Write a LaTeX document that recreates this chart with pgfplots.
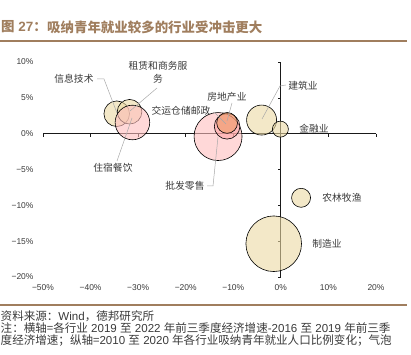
\documentclass[border=0pt]{standalone}
\usepackage{pgfplots}
\pgfplotsset{compat=1.18}
\usepackage{fontspec}
\setmainfont{Liberation Sans}
\newfontfamily\cjk{Noto Sans CJK SC}
\definecolor{beige}{HTML}{EBD9A3}
\definecolor{pinkb}{HTML}{FFBEBE}
\definecolor{pinkc}{HTML}{FF9E9E}
\definecolor{orangeb}{HTML}{EE9966}
\definecolor{titlebrown}{HTML}{A07E5E}
\definecolor{leader}{HTML}{A8A8A8}
\definecolor{labtxt}{HTML}{3A3A3A}
\begin{document}
\begin{tikzpicture}
\path[use as bounding box] (0,0) rectangle (411bp,355bp);
\begin{axis}[
  at={(43bp,78bp)}, anchor=south west, scale only axis,
  width=333bp, height=215bp,
  xmin=-50, xmax=20, ymin=-20, ymax=10,
  axis line style={draw=none}, tick style={draw=none},
  xtick={-50,-40,-30,-20,-10,0,10,20},
  xticklabels={−50\%,−40\%,−30\%,−20\%,−10\%,0\%,10\%,20\%},
  ytick={-20,-15,-10,-5,0,5,10},
  yticklabels={−20\%,−15\%,−10\%,−5\%,0\%,5\%,10\%},
  tick label style={font=\fontsize{8.5}{10}\selectfont, text=labtxt},
  xticklabel style={yshift=-4bp},
  yticklabel style={xshift=-6bp},
  clip=false,
]
% bubbles
\addplot[only marks, mark=*, mark size=12.8bp, mark options={draw=black, fill=beige, fill opacity=0.6, line width=0.6pt}] coordinates {(-34.5,2.78)};
\addplot[only marks, mark=*, mark size=12.3bp, mark options={draw=black, fill=beige, fill opacity=0.6, line width=0.6pt}] coordinates {(-31.8,3.06)};
\addplot[only marks, mark=*, mark size=17.3bp, mark options={draw=black, fill=pinkb, fill opacity=0.6, line width=0.6pt}] coordinates {(-31.2,1.56)};
\addplot[only marks, mark=*, mark size=24bp, mark options={draw=black, fill=pinkb, fill opacity=0.6, line width=0.6pt}] coordinates {(-13.2,-0.4)};
\addplot[only marks, mark=*, mark size=12.8bp, mark options={draw=black, fill=pinkc, fill opacity=0.5, line width=0.6pt}] coordinates {(-11.3,1.03)};
\addplot[only marks, mark=*, mark size=10.4bp, mark options={draw=black, fill=orangeb, fill opacity=0.6, line width=0.6pt}] coordinates {(-11.3,1.5)};
\addplot[only marks, mark=*, mark size=15bp, mark options={draw=black, fill=beige, fill opacity=0.6, line width=0.6pt}] coordinates {(-4.05,1.9)};
\addplot[only marks, mark=*, mark size=8bp, mark options={draw=black, fill=beige, fill opacity=0.6, line width=0.6pt}] coordinates {(-0.1,0.63)};
\addplot[only marks, mark=*, mark size=9.5bp, mark options={draw=black, fill=beige, fill opacity=0.6, line width=0.6pt}] coordinates {(4.25,-8.95)};
\addplot[only marks, mark=*, mark size=27.8bp, mark options={draw=black, fill=beige, fill opacity=0.6, line width=0.6pt}] coordinates {(-1.5,-15.36)};
% centre axis lines
\draw[black!90, line width=0.8pt] (axis cs:-50,0) -- (axis cs:20,0);
\draw[black!90, line width=0.8pt] (axis cs:0,-20) -- (axis cs:0,10);
\pgfplotsinvokeforeach{-50,-40,-30,-20,-10,10,20}{\draw[black!90, line width=0.6pt] (axis cs:#1,0) -- ([yshift=-3bp]axis cs:#1,0);}
\pgfplotsinvokeforeach{-20,-15,-10,-5,5,10}{\draw[black!90, line width=0.6pt] (axis cs:0,#1) -- ([xshift=-3bp]axis cs:0,#1);}
\end{axis}
\begin{scope}[x=1bp, y=-1bp, yshift=355bp]
% title
\node[anchor=west, inner sep=0, text=titlebrown, font=\fontsize{13.5}{15}\selectfont\cjk\bfseries] at (47,27) {吸纳青年就业较多的行业受冲击更大};
\node[anchor=east, inner sep=0, text=titlebrown, font=\fontsize{13.5}{15}\selectfont\bfseries] at (47,27) {{\cjk 图} 27{\cjk ：}};
\draw[titlebrown, line width=1.3bp] (0,41) -- (407,41);
\draw[titlebrown, line width=1.3bp] (0,305) -- (407,305);
% leader lines
\begin{scope}[leader, line width=0.5pt]
\draw (97,79) -- (104,79) -- (117,113);
\draw (157,88) -- (130,111);
\draw (214,112) -- (226,124);
\draw (232,103) -- (227,121);
\draw (117,161) -- (132,118);
\draw (207,186) -- (213,186) -- (218,137);
\draw (286,85) -- (280,86) -- (262,119);
\end{scope}
% labels
\begin{scope}[every node/.style={inner sep=0, text=labtxt, font=\fontsize{9.8}{11}\selectfont\cjk}]
\node at (74,79) {信息技术};
\node at (158,66) {租赁和商务服};
\node at (158,79) {务};
\node at (181,111) {交运仓储邮政};
\node at (227,97) {房地产业};
\node at (113,168) {住宿餐饮};
\node at (185,186) {批发零售};
\node at (303,86) {建筑业};
\node at (314,129) {金融业};
\node at (342,198) {农林牧渔};
\node at (327,244) {制造业};
\end{scope}
% footer
\begin{scope}[every node/.style={inner sep=0, anchor=west, text=labtxt, font=\fontsize{11.6}{13}\selectfont}]
\node at (0.5,316) {{\cjk 资料来源：}Wind{\cjk ，德邦研究所}};
\node at (0.5,328.5) {{\cjk 注：横轴=各行业} 2019 {\cjk 至} 2022 {\cjk 年前三季度经济增速}-2016 {\cjk 至} 2019 {\cjk 年前三季}};
\node at (0.5,341) {{\cjk 度经济增速；纵轴=}2010 {\cjk 至} 2020 {\cjk 年各行业吸纳青年就业人口比例变化；气泡}};
\end{scope}
\end{scope}
\end{tikzpicture}
\end{document}
